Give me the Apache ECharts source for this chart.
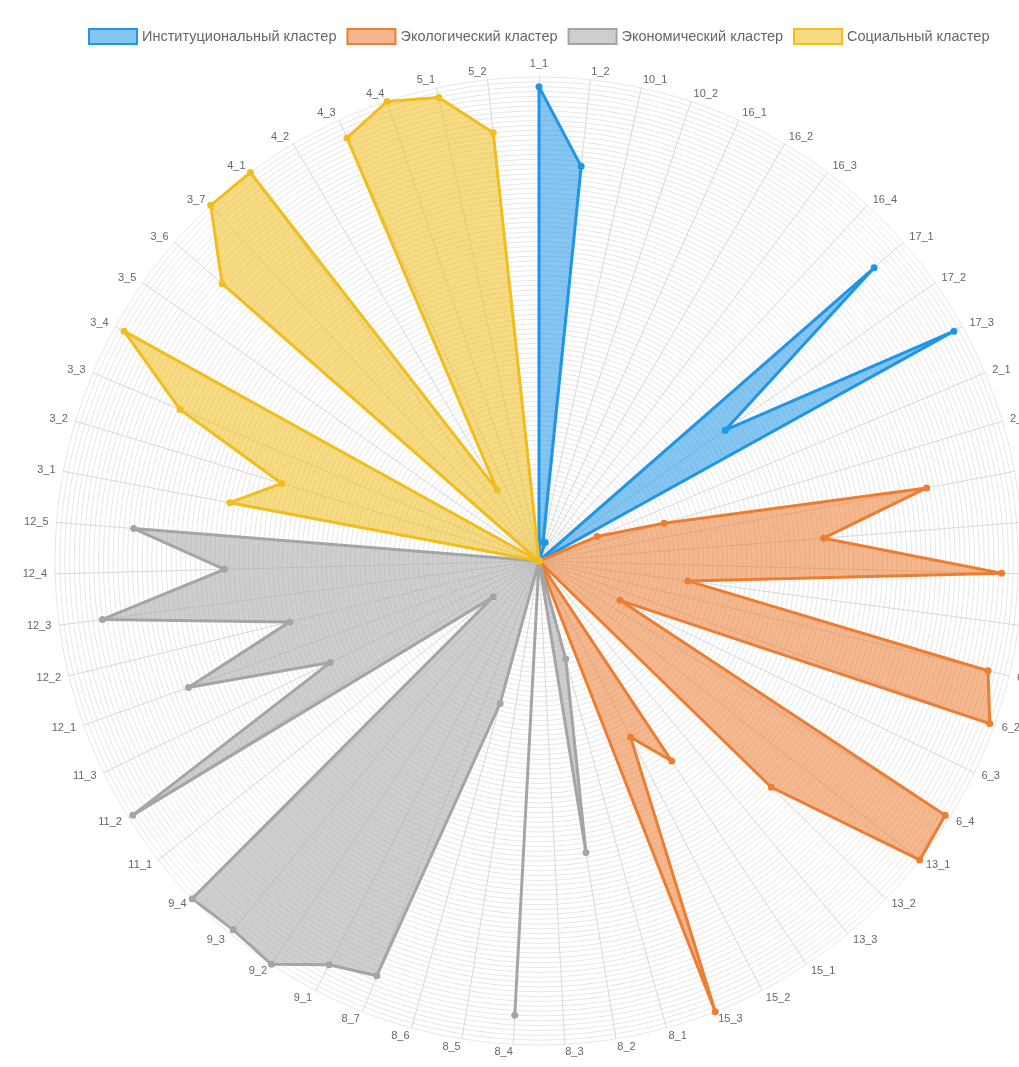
<!DOCTYPE html>
<html>
<head>
<meta charset="utf-8">
<script src="https://cdn.jsdelivr.net/npm/echarts@6/dist/echarts.min.js"></script>
<style>
  html, body { margin: 0; padding: 0; background: #fff; }
  #chart { width: 1019px; height: 1067px; }
</style>
</head>
<body>
<div id="chart"></div>
<script>
// indicator names per cluster, clockwise from the top
const instNames = ['1_1', '1_2', '10_1', '10_2', '16_1', '16_2', '16_3', '16_4', '17_1', '17_2', '17_3'];
const instValues = [98, 82, 4, 4, 0, 0, 0, 0, 92, 47, 98];

const ecoNames = ['2_1', '2_2', '2_3', '2_4', '2_5', '2_6', '6_1', '6_2', '6_3', '6_4', '13_1', '13_2', '13_3', '15_1', '15_2', '15_3'];
const ecoValues = [13, 27, 81.5, 59, 95.6, 31, 95.5, 99, 18.6, 99, 100, 67, 0, 49.6, 41, 100];

const econNames = ['8_1', '8_2', '8_3', '8_4', '8_5', '8_6', '8_7', '9_1', '9_2', '9_3', '9_4', '11_1', '11_2', '11_3', '12_1', '12_2', '12_3', '12_4', '12_5'];
const econValues = [21, 61, 0, 94, 0, 30.5, 92, 94, 100, 99, 100, 12, 99, 48, 77, 53, 91, 65, 84];

const socNames = ['3_1', '3_2', '3_3', '3_4', '3_5', '3_6', '3_7', '4_1', '4_2', '4_3', '4_4', '5_1', '5_2'];
const socValues = [65, 55.5, 80.5, 98, 0, 87, 100, 100, 17, 96, 100, 98, 89];

const clusterNames = ['Институциональный кластер', 'Экологический кластер', 'Экономический кластер', 'Социальный кластер'];
const lineColors = ['#1f96e8', '#ed7d31', '#a5a5a5', '#f0be1e'];
const fillColors = ['rgba(31,150,232,0.55)', 'rgba(237,125,49,0.55)', 'rgba(165,165,165,0.55)', 'rgba(240,190,30,0.55)'];

const allNames = instNames.concat(ecoNames, econNames, socNames);
const N = allNames.length;

// radar in echarts runs counter-clockwise, so reverse everything after the first axis
const order = [0];
for (let i = N - 1; i >= 1; i--) order.push(i);

function fullRow(names, values) {
    const row = allNames.map(() => 0);
    names.forEach((n, k) => { row[allNames.indexOf(n)] = values[k]; });
    return order.map(i => row[i]);
}

const rows = [
    fullRow(instNames, instValues),
    fullRow(ecoNames, ecoValues),
    fullRow(econNames, econValues),
    fullRow(socNames, socValues)
];

const chart = echarts.init(document.getElementById('chart'));

const option = {
    animation: false,
    textStyle: { fontFamily: 'Liberation Sans, Arial, sans-serif' },
    legend: {
        left: 83,
        top: 23,
        itemWidth: 48,
        itemHeight: 15,
        itemGap: 10,
        icon: 'rect',
        textStyle: { color: '#666', fontSize: 14.5 },
        data: clusterNames.map((n, i) => ({
            name: n,
            itemStyle: { color: fillColors[i], borderColor: lineColors[i], borderWidth: 2 }
        }))
    },
    radar: {
        center: [539, 561],
        radius: 484,
        shape: 'circle',
        splitNumber: 100,
        nameGap: 8,
        axisName: { color: '#666', fontSize: 11 },
        axisLine: { lineStyle: { color: '#d8d8d8', width: 1 } },
        splitLine: { lineStyle: { color: '#e6e6e6', width: 1 } },
        splitArea: { show: false },
        axisTick: { show: false },
        axisLabel: { show: false },
        indicator: order.map(i => ({ name: allNames[i], max: 100, min: 0 }))
    },
    series: clusterNames.map((n, i) => ({
        name: n,
        type: 'radar',
        symbol: 'circle',
        symbolSize: 7,
        itemStyle: { color: lineColors[i] },
        lineStyle: { color: lineColors[i], width: 3 },
        areaStyle: { color: fillColors[i], opacity: 1 },
        data: [{ name: n, value: rows[i] }]
    }))
};

chart.setOption(option);
</script>
</body>
</html>
